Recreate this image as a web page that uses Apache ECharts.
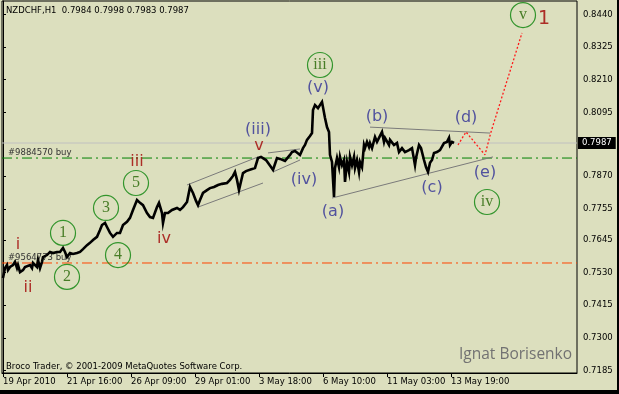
<!DOCTYPE html>
<html>
<head>
<meta charset="utf-8">
<script src="https://cdn.jsdelivr.net/npm/echarts@6/dist/echarts.min.js"></script>
<style>
html,body{margin:0;padding:0;background:#000;}
#c{width:617px;height:390px;background:#DCDFBE;}
</style>
</head>
<body>
<div id="c"></div>
<script>
// ---- data (bar index = hourly bar number from 19 Apr 2010) ----
const priceBars = [0,2,4,5,7,10,12,14,15,17,19,20,22,24,27,29,30,34,35,37,39,40,44,47,50,54,57,60,62,64,67,70,74,77,80,84,87,90,94,97,99,102,104,107,110,114,117,120,124,127,130,134,137,140,144,147,150,154,156,159,160,162,165,169,174,177,180,184,
  187,190,193,195,197,200,204,207,211,215,219,224,227,230,232,234,236,238,240,243,245,249,252,255,258,260,263,265,268,270,272,274,277,279,282,284,287,289,292,294,297,299,300,302,304,307,309,310,312,315,317,
  319,322,324,326,327,329,331,332,334,336,337,339,341,342,344,346,347,349,351,352,354,356,357,359,361,362,364,366,367,369,372,374,376,379,381,382,386,387,391,394,396,399,402,406,409,412,413,416,418,421,423,425,427,429,431,432,434,437,439,441,444,446,447,449,451];
const priceValues = [0.7511,0.7546,0.7557,0.7539,0.7550,0.7557,0.7568,0.7546,0.7557,0.7532,0.7529,0.7539,0.7550,0.7546,0.7557,0.7546,0.7564,0.7550,0.7575,0.7546,0.7568,0.7585,0.7592,0.7603,0.7599,0.7603,0.7603,0.7617,0.7603,0.7585,0.7599,0.7596,0.7599,0.7603,0.7613,0.7627,0.7635,0.7645,0.7656,0.7680,0.7698,0.7705,0.7691,0.7670,0.7656,0.7670,0.7670,0.7698,0.7709,0.7723,0.7751,0.7786,0.7776,0.7768,0.7740,0.7726,0.7723,0.7761,0.7776,0.7740,0.7705,0.7740,0.7740,0.7751,0.7758,0.7751,0.7761,0.7779,
  0.7832,0.7811,0.7783,0.7768,0.7786,0.7811,0.7821,0.7828,0.7832,0.7839,0.7843,0.7846,0.7857,0.7871,0.7885,0.7857,0.7821,0.7828,0.7881,0.7888,0.7892,0.7895,0.7899,0.7934,0.7938,0.7934,0.7927,0.7920,0.7902,0.7892,0.7913,0.7934,0.7931,0.7934,0.7924,0.7927,0.7945,0.7955,0.7959,0.7962,0.7945,0.7941,0.7969,0.7980,0.7998,0.8012,0.8022,0.8103,0.8121,0.8110,0.8114,
  0.8132,0.8075,0.8043,0.8026,0.7945,0.7920,0.7797,0.7899,0.7934,0.7902,0.7938,0.7909,0.7927,0.7850,0.7920,0.7885,0.7938,0.7909,0.7938,0.7899,0.7927,0.7885,0.7920,0.7902,0.7980,0.7969,0.7991,0.7973,0.7987,0.7969,0.8008,0.7991,0.8005,0.8026,0.7991,0.8005,0.7980,0.7998,0.7980,0.7987,0.7955,0.7969,0.7955,0.7962,0.7969,0.7909,0.7934,0.7980,0.7969,0.7927,0.7902,0.7885,0.7917,0.7927,0.7952,0.7945,0.7955,0.7962,0.7969,0.7987,0.7991,0.8005,0.7980,0.7991,0.7987];
const lastQuote = ['0.7984','0.7998','0.7983','0.7987'];
const bidPrice = 0.7987;

const xTickBars = [0,64,128,192,256,320,384,448];
const xTickLabels = ['19 Apr 2010','21 Apr 16:00','26 Apr 09:00','29 Apr 01:00','3 May 18:00','6 May 10:00','11 May 03:00','13 May 19:00'];
const yTickValues = [0.7185,0.7300,0.7415,0.7530,0.7645,0.7755,0.7870,0.8095,0.8210,0.8325,0.8440];
const xMin = -1, xMax = 574, yMin = 0.71762, yMax = 0.84876;

const orderNames = ['#9884570 buy','#9564773 buy'];
const orderPrices = [0.7934,0.7564];
const orderColors = ['#008000','#FF4500'];

// trend lines: [bar1, price1, bar2, price2]
const trendLines = [
  [184,0.7839,255,0.7938],
  [195,0.7761,260,0.7846],
  [265,0.7952,297,0.7966],
  [270,0.7885,297,0.7927],
  [367,0.8043,487,0.8022],
  [329,0.7793,490,0.7938]
];
const projBars = [455,463,482,488,519];
const projValues = [0.7980,0.8026,0.7945,0.8026,0.8375];

// wave labels: [text, bar, price]
const redLabels = [['i',15,0.7627],['ii',25,0.7476],['iii',134,0.7920],['iv',161,0.7649],['v',256,0.7976]];
const bigRedLabels = [['1',541,0.8424]];
const navyLabels = [['(iii)',255,0.8033],['(iv)',301,0.7857],['(v)',315,0.8181],['(a)',330,0.7744],['(b)',374,0.8079],['(c)',429,0.7828],['(d)',463,0.8075],['(e)',482,0.7881]];
const circleLabels = [['1',60,0.7670],['2',64,0.7515],['3',103,0.7758],['4',115,0.7592],['5',133,0.7846],['iii',317,0.8262],['iv',484,0.7779],['v',520,0.8438]];

// ---- chart ----
const FONT = 'DejaVu Sans';
const chart = echarts.init(document.getElementById('c'));
const textScatter = (arr, color, size, family) => ({
  type: 'scatter', silent: true, z: 10,
  symbolSize: 0,
  itemStyle: {color: 'transparent'},
  data: arr.map(d => ({value: [d[1], d[2]], name: d[0]})),
  label: {show: true, position: 'inside', formatter: p => p.name, color: color, fontSize: size, fontFamily: family}
});

const series = [];
// bid line with price box at the right axis
series.push({
  type: 'line', data: [[xMin, bidPrice], [xMax, bidPrice]], showSymbol: false, silent: true, z: 2,
  lineStyle: {color: '#C0C0C0', width: 1},
  endLabel: {show: true, formatter: () => bidPrice.toFixed(4), distance: 1, backgroundColor: '#000', color: '#fff',
    padding: [2,4,1,4], fontSize: 8.5, fontFamily: FONT}
});
// order lines
orderPrices.forEach((p, k) => series.push({
  type: 'line', symbol: 'circle', symbolSize: 0, showSymbol: true, silent: true, z: 2,
  itemStyle: {color: 'transparent'},
  label: {show: false},
  data: [{value: [xMin, p], label: {show: true, formatter: orderNames[k], position: 'top', align: 'left', offset: [6, 4],
          color: '#333', fontSize: 8.5, fontFamily: FONT}}, [xMax, p]],
  lineStyle: {color: orderColors[k], width: 1, type: [10,4,2,4]}
}));
series.push({
  type: 'line', data: priceBars.map((b, i) => [b, priceValues[i]]),
  showSymbol: false, silent: true, z: 5,
  lineStyle: {color: '#000', width: 2.6, join: 'miter'}
});
trendLines.forEach(t => series.push({
  type: 'line', data: [[t[0], t[1]], [t[2], t[3]]], showSymbol: false, silent: true, z: 4,
  lineStyle: {color: '#7a7a7a', width: 1}
}));
series.push({
  type: 'line', data: projBars.map((b, i) => [b, projValues[i]]), showSymbol: false, silent: true, z: 4,
  lineStyle: {color: '#FF1a1a', width: 1.3, type: [2,2]}
});
series.push(textScatter(redLabels, '#a00000', 16, FONT));
series.push(textScatter(bigRedLabels, '#a00000', 19, FONT));
series.push(textScatter(navyLabels, '#2e2e96', 16, FONT));
series.push({
  type: 'scatter', silent: true, z: 10, symbol: 'circle', symbolSize: 25,
  itemStyle: {color: 'transparent', borderColor: '#078207', borderWidth: 1.2},
  data: circleLabels.map(d => ({value: [d[1], d[2]], name: d[0]})),
  label: {show: true, position: 'inside', formatter: p => p.name, color: '#236400', fontSize: 16, fontFamily: 'Liberation Serif'}
});

chart.setOption({
  animation: false,
  backgroundColor: 'transparent',
  title: [
    {text: 'NZDCHF,H1  ' + lastQuote.join(' '), left: 6, top: 6, padding: 0,
     textStyle: {fontSize: 8.5, fontWeight: 'normal', color: '#000', fontFamily: FONT}},
    {text: 'Broco Trader, \u00A9 2001-2009 MetaQuotes Software Corp.', left: 6, top: 362, padding: 0,
     textStyle: {fontSize: 8.5, fontWeight: 'normal', color: '#000', fontFamily: FONT}},
    {text: 'Ignat Borisenko', left: 459, top: 347, padding: 0,
     textStyle: {fontSize: 15.5, fontWeight: 'normal', color: '#727272', fontFamily: 'Open Sans'}}
  ],
  grid: {left: 2, top: 1, right: 40, bottom: 17, show: true, borderColor: '#000', borderWidth: 1, backgroundColor: 'transparent'},
  xAxis: {
    type: 'value', min: xMin, max: xMax,
    axisLine: {show: true, lineStyle: {color: '#000', width: 1}},
    axisTick: {show: true, length: 4, customValues: xTickBars, lineStyle: {color: '#000'}},
    axisLabel: {show: true, customValues: xTickBars, margin: 4, align: 'left',
      formatter: v => xTickLabels[xTickBars.indexOf(v)] || '',
      color: '#000', fontSize: 8.5, fontFamily: FONT},
    splitLine: {show: false}
  },
  yAxis: {
    type: 'value', position: 'right', min: yMin, max: yMax,
    axisLine: {show: true, lineStyle: {color: '#000', width: 1}},
    axisTick: {show: true, length: 3, customValues: yTickValues, lineStyle: {color: '#000'}},
    axisLabel: {show: true, customValues: yTickValues, margin: 6,
      formatter: v => v.toFixed(4), color: '#000', fontSize: 8.5, fontFamily: FONT},
    splitLine: {show: false}
  },
  series: series
});
</script>
</body>
</html>
